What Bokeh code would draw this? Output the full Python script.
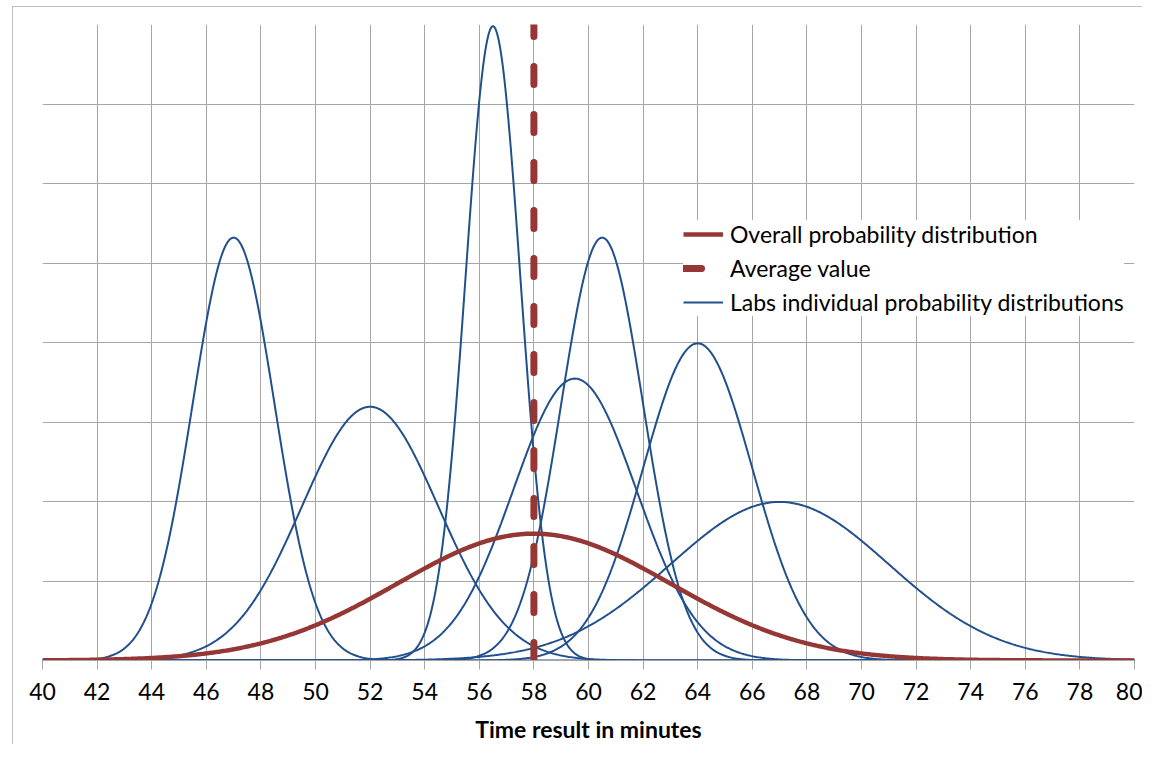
import numpy as np
from bokeh.plotting import figure
from bokeh.layouts import row, column
from bokeh.models import Legend, LegendItem, Range1d, SingleIntervalTicker, ColumnDataSource, Spacer
from bokeh.embed import file_html
from bokeh.resources import INLINE

# --- data (normal distributions: mean, std. dev.) ---
lab_means = [47.0, 52.0, 56.5, 59.5, 60.5, 64.0, 67.0]
lab_sigmas = [1.5, 2.5, 1.0, 2.25, 1.5, 2.0, 4.0]
overall_mean = 58.0
overall_sigma = 5.0
average_value = 58.0

x_min, x_max = 40, 80
y_min, y_max = 0.0, 0.4

BLUE = "#22508C"
RED = "#953735"
GRID = "#A6A6A6"
FONT = "Lato"

def pdf(x, m, s):
    return np.exp(-0.5 * ((x - m) / s) ** 2) / (s * np.sqrt(2 * np.pi))

xs = np.linspace(x_min, x_max, 801)

p = figure(width=1130, height=738, output_backend="svg", toolbar_location=None,
           x_range=Range1d(x_min, x_max), y_range=Range1d(y_min, y_max),
           min_border_left=29, min_border_right=9, min_border_top=17, min_border_bottom=84)
p.styles = {"border-left": "1px solid #BEBEBE", "border-top": "1px solid #BEBEBE"}
p.outline_line_color = None
p.background_fill_color = "white"
p.border_fill_color = "white"

p.xaxis.ticker = SingleIntervalTicker(interval=2, num_minor_ticks=0)
p.xaxis.major_label_text_font = FONT
p.xaxis.major_label_text_font_size = "23px"
p.xaxis.major_label_text_color = "black"
p.xaxis.major_label_standoff = 13
p.xaxis.major_tick_out = 9
p.xaxis.major_tick_in = 0
p.xaxis.major_tick_line_color = GRID
p.xaxis.minor_tick_line_color = None
p.xaxis.axis_line_color = GRID
p.xaxis.axis_label = "Time result in minutes"
p.xaxis.axis_label_text_font = FONT
p.xaxis.axis_label_text_font_style = "bold"
p.xaxis.axis_label_text_font_size = "23px"
p.xaxis.axis_label_text_color = "black"
p.xaxis.axis_label_standoff = 12

p.yaxis.ticker = SingleIntervalTicker(interval=0.05, num_minor_ticks=0)
p.yaxis.visible = False

p.xgrid.grid_line_color = GRID
p.ygrid.grid_line_color = GRID
p.xgrid.grid_line_width = 1
p.ygrid.grid_line_width = 1

lab_renderers = []
for m, s in zip(lab_means, lab_sigmas):
    src = ColumnDataSource(dict(x=xs, y=pdf(xs, m, s)))
    r = p.line("x", "y", source=src, line_color=BLUE, line_width=2)
    lab_renderers.append(r)

overall_src = ColumnDataSource(dict(x=xs, y=pdf(xs, overall_mean, overall_sigma)))
r_overall = p.line("x", "y", source=overall_src, line_color=RED, line_width=4.5)

avg_src = ColumnDataSource(dict(x=[average_value, average_value], y=[y_min, y_max]))
r_avg = p.line("x", "y", source=avg_src, line_color=RED, line_width=7,
               line_dash="18 30", line_cap="round")

legend = Legend(items=[
    LegendItem(label="Overall probability distribution", renderers=[r_overall]),
    LegendItem(label="Average value", renderers=[r_avg]),
    LegendItem(label="Labs individual probability distributions", renderers=[lab_renderers[0]]),
], location=(641, 344))
legend.label_text_font = FONT
legend.label_text_font_size = "23px"
legend.label_text_color = "black"
legend.glyph_width = 40
legend.glyph_height = 24
legend.label_height = 24
legend.label_standoff = 7
legend.spacing = 6
legend.padding = 8
legend.margin = 0
legend.border_line_color = None
legend.background_fill_color = "white"
legend.background_fill_alpha = 1.0
p.add_layout(legend, "center")

layout = column(Spacer(height=6, width=10), row(Spacer(width=12, height=10), p))
open("out.html", "w").write(file_html(layout, INLINE))
